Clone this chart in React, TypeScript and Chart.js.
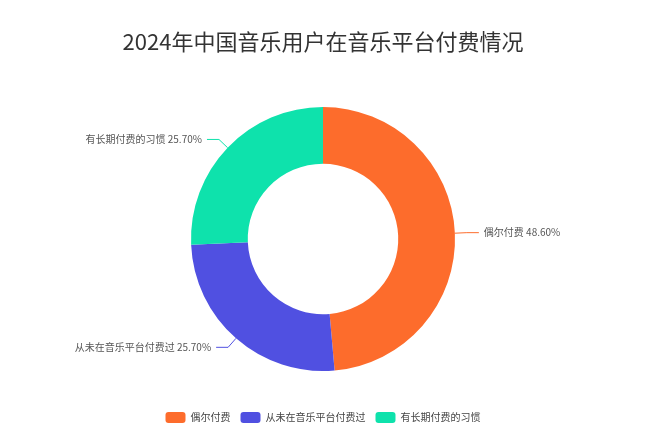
import React, { useEffect, useRef } from "react";
import { Chart, registerables } from "chart.js";

Chart.register(...registerables);

const TITLE = "2024年中国音乐用户在音乐平台付费情况";
const categories = ["偶尔付费", "从未在音乐平台付费过", "有长期付费的习惯"];
const values = [48.6, 25.7, 25.7];
const colors = ["#FD6C2C", "#5050E1", "#0EE2AC"];

const FONT = "'Noto Sans CJK SC', 'Noto Sans', sans-serif";

const outerLabels = {
  id: "outerLabels",
  afterDatasetsDraw(chart: any) {
    const ctx = chart.ctx;
    const meta = chart.getDatasetMeta(0);
    const LEN1 = 12;
    const LEN2 = 12;
    meta.data.forEach((arc: any, i: number) => {
      const { x, y, startAngle, endAngle, outerRadius } = arc.getProps(
        ["x", "y", "startAngle", "endAngle", "outerRadius"],
        true
      );
      const mid = (startAngle + endAngle) / 2;
      const cos = Math.cos(mid);
      const sin = Math.sin(mid);
      const x0 = x + cos * outerRadius;
      const y0 = y + sin * outerRadius;
      const x1 = x0 + cos * LEN1;
      const y1 = y0 + sin * LEN1;
      const dir = cos >= 0 ? 1 : -1;
      const x2 = x1 + dir * LEN2;
      ctx.save();
      ctx.strokeStyle = colors[i];
      ctx.lineWidth = 1;
      ctx.beginPath();
      ctx.moveTo(x0, y0);
      ctx.lineTo(x1, y1);
      ctx.lineTo(x2, y1);
      ctx.stroke();
      ctx.fillStyle = "#555";
      ctx.font = `10px ${FONT}`;
      ctx.textBaseline = "middle";
      ctx.textAlign = dir > 0 ? "left" : "right";
      ctx.fillText(`${categories[i]} ${values[i].toFixed(2)}%`, x2 + dir * 5, y1);
      ctx.restore();
    });
  },
};

function App() {
  const ref = useRef<HTMLCanvasElement | null>(null);
  useEffect(() => {
    if (!ref.current) return;
    const chart = new Chart(ref.current, {
      type: "doughnut",
      data: {
        labels: categories,
        datasets: [
          {
            data: values,
            backgroundColor: colors,
            borderWidth: 0,
            hoverOffset: 0,
          },
        ],
      },
      options: {
        animation: false,
        responsive: true,
        maintainAspectRatio: false,
        radius: 132,
        cutout: "57%",
        layout: { padding: { top: 0, left: 0, right: 14, bottom: 6 } },
        plugins: {
          title: {
            display: true,
            text: TITLE,
            color: "#333",
            font: { family: FONT, size: 22, weight: "normal", lineHeight: 1.2 },
            padding: { top: 28, bottom: 21.6 },
          },
          legend: {
            display: true,
            position: "bottom",
            labels: {
              boxWidth: 20,
              boxHeight: 11,
              useBorderRadius: true,
              borderRadius: 3,
              padding: 10,
              color: "#444",
              font: { family: FONT, size: 10 },
            },
          },
          tooltip: { enabled: false },
        },
      } as any,
      plugins: [outerLabels],
    });
    return () => chart.destroy();
  }, []);
  return (
    <div style={{ position: "fixed", left: 0, top: 0, width: 660, height: 439, background: "#fff" }}>
      <canvas ref={ref} />
    </div>
  );
}

export default App;
